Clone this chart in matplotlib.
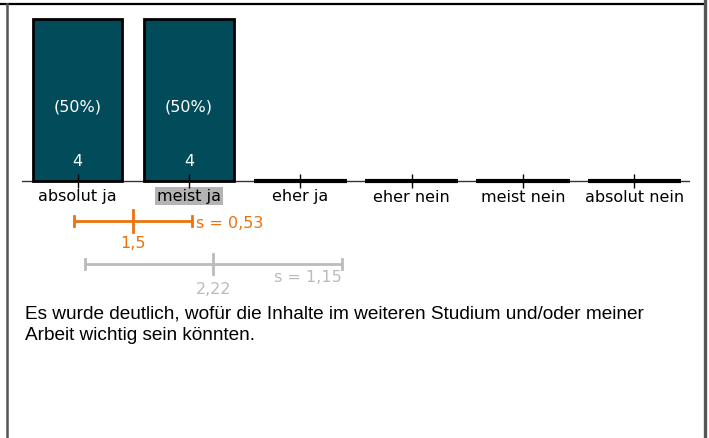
import matplotlib
matplotlib.use("Agg")
import matplotlib.pyplot as plt
from matplotlib.lines import Line2D

categories = ["absolut ja", "meist ja", "eher ja", "eher nein", "meist nein", "absolut nein"]
counts = [4, 4, 0, 0, 0, 0]
percents = ["(50%)", "(50%)", "", "", "", ""]
median_index = 1
mean_own, sd_own = 1.5, 0.53
mean_ref, sd_ref = 2.22, 1.15
mean_own_label, sd_own_label = "1,5", "s = 0,53"
mean_ref_label, sd_ref_label = "2,22", "s = 1,15"
question = "Es wurde deutlich, wofür die Inhalte im weiteren Studium und/oder meiner\nArbeit wichtig sein könnten."

W, H = 709, 439
fig = plt.figure(figsize=(W / 100, H / 100), dpi=100)
ax = fig.add_axes([22 / W, 0, (690 - 22) / W, 1])
ax.set_axis_off()
ax.set_xlim(-0.5, 5.5)
ppu = 40.5  # pixels per count unit
y0 = 182
ax.set_ylim(-(H - y0) / ppu, y0 / ppu)

def py(p):
    return (y0 - p) / ppu

bar_color = "#024B5A"
orange = "#E8730F"
grey = "#BBBBBB"
fs = 11.5

xs = list(range(len(categories)))
for i, c in enumerate(counts):
    if c > 0:
        ax.bar(i, c, width=0.80, color=bar_color, edgecolor="black", linewidth=2, zorder=2)
        ax.text(i, py(107), percents[i], color="white", ha="center", va="center", fontsize=fs, zorder=3)
        ax.text(i, py(162), str(c), color="white", ha="center", va="center", fontsize=fs, zorder=3)
    else:
        ax.plot([i - 0.42, i + 0.42], [0, 0], color="black", lw=3, solid_capstyle="butt", zorder=2)

ax.plot([-0.5, 5.5], [0, 0], color="#333333", lw=1, zorder=1)
ax.plot(xs, [0] * len(xs), ls="none", marker="|", markersize=10, color="black", mew=1, zorder=4)

for i, lab in enumerate(categories):
    kw = {}
    if i == median_index:
        kw["bbox"] = dict(boxstyle="square,pad=0.1", fc="#B4B4B4", ec="none")
    ax.text(i, py(197), lab, ha="center", va="center", fontsize=fs, color="black", **kw)

def errbar(mean, sd, ypx, color, cap, mid, lw):
    lo, hi = mean - sd - 1, mean + sd - 1
    m = mean - 1
    yy = py(ypx)
    ax.plot([lo, hi], [yy, yy], color=color, lw=lw, solid_capstyle="butt")
    for xx in (lo, hi):
        ax.plot([xx, xx], [py(ypx - cap / 2), py(ypx + cap / 2)], color=color, lw=lw)
    ax.plot([m, m], [py(ypx - mid / 2), py(ypx + mid / 2)], color=color, lw=lw)
    return lo, hi, m

lo, hi, m = errbar(mean_own, sd_own, 222, orange, 10, 22, 2)
ax.text(m, py(244), mean_own_label, color=orange, ha="center", va="center", fontsize=fs)
ax.text(hi + 0.03, py(224), sd_own_label, color=orange, ha="left", va="center", fontsize=fs)

lo, hi, m = errbar(mean_ref, sd_ref, 265, grey, 10, 20, 2)
ax.text(m, py(290), mean_ref_label, color=grey, ha="center", va="center", fontsize=fs)
ax.text(hi, py(277), sd_ref_label, color=grey, ha="right", va="center", fontsize=fs)

fig.text(25 / W, 1 - 306 / H, question, fontsize=13.7, family="Liberation Sans",
         ha="left", va="top", linespacing=1.27, color="black")

# frame lines
fig.add_artist(Line2D([0, 705 / W], [1 - 5 / H, 1 - 5 / H], color="black", lw=1.6))
fig.add_artist(Line2D([7 / W, 7 / W], [0, 1 - 5 / H], color="#555555", lw=1.8))
fig.add_artist(Line2D([705 / W, 705 / W], [0, 1], color="#555555", lw=2.4))

fig.savefig("out.png", dpi=100, facecolor="white")
